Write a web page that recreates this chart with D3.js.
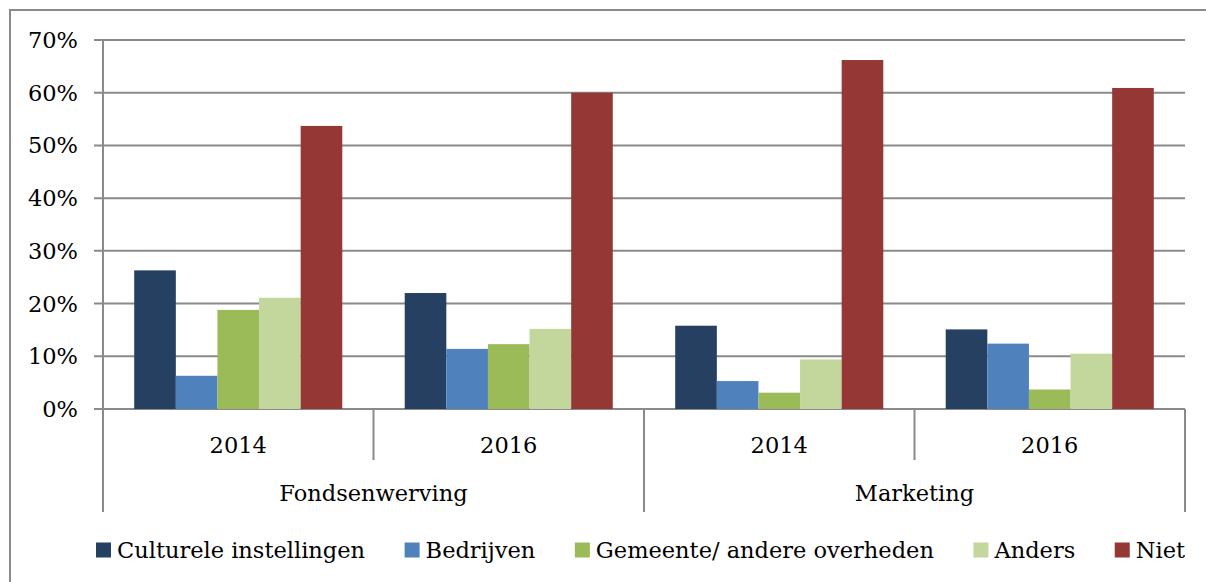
<!DOCTYPE html>
<html>
<head>
<meta charset="utf-8">
<script src="https://cdn.jsdelivr.net/npm/d3@7"></script>
<style>
  body { margin: 0; background: #fff; }
  text { font-family: "DejaVu Serif", serif; fill: #000; }
</style>
</head>
<body>
<div id="chart"></div>
<script>
const groups = ['Fondsenwerving', 'Marketing'];
const years = ['2014', '2016'];
const seriesNames = ['Culturele instellingen', 'Bedrijven', 'Gemeente/ andere overheden', 'Anders', 'Niet'];
const seriesColors = ['#254061', '#4f81bd', '#9bbb59', '#c3d69b', '#953735'];
// values per series: Fondsenwerving 2014, 2016, Marketing 2014, 2016
const cultureleValues = [0.263, 0.220, 0.158, 0.151];
const bedrijvenValues = [0.063, 0.114, 0.053, 0.124];
const gemeenteValues = [0.188, 0.123, 0.031, 0.037];
const andersValues = [0.211, 0.152, 0.094, 0.105];
const nietValues = [0.537, 0.600, 0.662, 0.609];
const yTicks = [0, 0.1, 0.2, 0.3, 0.4, 0.5, 0.6, 0.7];

const seriesValues = [cultureleValues, bedrijvenValues, gemeenteValues, andersValues, nietValues];
const cats = [];
groups.forEach(g => years.forEach(y => cats.push(g + '|' + y)));

const W = 1206, H = 582;
const plotLeft = 103, plotRight = 1185, plotTop = 40, plotBottom = 409;
const grey = '#8a8a8a';
const fs = 22.5;

const svg = d3.select('#chart').append('svg')
    .attr('width', W)
    .attr('height', H);

// chart border
svg.append('rect')
    .attr('x', 10).attr('y', 10)
    .attr('width', 1250).attr('height', 700)
    .attr('fill', 'none')
    .attr('stroke', grey)
    .attr('stroke-width', 2);

const y = d3.scaleLinear().domain([0, 0.7]).range([plotBottom, plotTop]);
const xCat = d3.scaleBand().domain(cats).range([plotLeft, plotRight]).padding(0);
const xGroup = d3.scaleBand().domain(groups).range([plotLeft, plotRight]).padding(0);
const xSeries = d3.scaleBand().domain(d3.range(seriesNames.length))
    .range([0, xCat.bandwidth()]).paddingInner(0).paddingOuter(0.75);

// gridlines + tick marks
svg.append('g').selectAll('line').data(yTicks).join('line')
    .attr('x1', plotLeft - 9).attr('x2', plotRight)
    .attr('y1', d => y(d)).attr('y2', d => y(d))
    .attr('stroke', grey).attr('stroke-width', 2);

// y labels
svg.append('g').selectAll('text').data(yTicks).join('text')
    .attr('x', 78).attr('y', d => y(d))
    .attr('text-anchor', 'end')
    .attr('dominant-baseline', 'central')
    .attr('font-size', fs)
    .text(d => d3.format('.0%')(d));

// bars
const series = svg.append('g').selectAll('g').data(seriesValues).join('g')
    .attr('fill', (d, i) => seriesColors[i]);
series.each(function(vals, si) {
  d3.select(this).selectAll('rect').data(vals).join('rect')
      .attr('x', (d, ci) => xCat(cats[ci]) + xSeries(si))
      .attr('y', d => y(d))
      .attr('width', xSeries.bandwidth())
      .attr('height', d => plotBottom - y(d));
});

// y axis line
svg.append('line')
    .attr('x1', plotLeft).attr('x2', plotLeft)
    .attr('y1', plotTop).attr('y2', plotBottom)
    .attr('stroke', grey).attr('stroke-width', 2);

// category separators: inner (year) and outer (group)
svg.append('g').selectAll('line').data(cats.slice(1)).join('line')
    .attr('x1', d => xCat(d)).attr('x2', d => xCat(d))
    .attr('y1', plotBottom).attr('y2', 460)
    .attr('stroke', grey).attr('stroke-width', 2);
const outerEdges = groups.map(g => xGroup(g)).concat([plotRight]);
svg.append('g').selectAll('line').data(outerEdges).join('line')
    .attr('x1', d => d).attr('x2', d => d)
    .attr('y1', plotBottom).attr('y2', 512)
    .attr('stroke', grey).attr('stroke-width', 2);

// year labels
svg.append('g').selectAll('text').data(cats).join('text')
    .attr('x', d => xCat(d) + xCat.bandwidth() / 2)
    .attr('y', 445)
    .attr('text-anchor', 'middle')
    .attr('dominant-baseline', 'central')
    .attr('font-size', fs)
    .text(d => d.split('|')[1]);

// group labels
svg.append('g').selectAll('text').data(groups).join('text')
    .attr('x', d => xGroup(d) + xGroup.bandwidth() / 2)
    .attr('y', 493)
    .attr('text-anchor', 'middle')
    .attr('dominant-baseline', 'central')
    .attr('font-size', fs)
    .text(d => d);

// legend, spread across the plot width
const legendLeft = 96, legendRight = 1185;
const legend = svg.append('g');
const items = legend.selectAll('g').data(seriesNames).join('g');
items.append('rect')
    .attr('width', 15).attr('height', 15)
    .attr('y', -7.5)
    .attr('fill', (d, i) => seriesColors[i]);
items.append('text')
    .attr('x', 21)
    .attr('dominant-baseline', 'central')
    .attr('font-size', fs)
    .text(d => d);
const widths = [];
items.each(function() { widths.push(this.getBBox().width); });
const gap = (legendRight - legendLeft - d3.sum(widths)) / (widths.length - 1);
let lx = legendLeft;
items.each(function(d, i) {
  d3.select(this).attr('transform', `translate(${lx},550)`);
  lx += widths[i] + gap;
});
</script>
</body>
</html>
